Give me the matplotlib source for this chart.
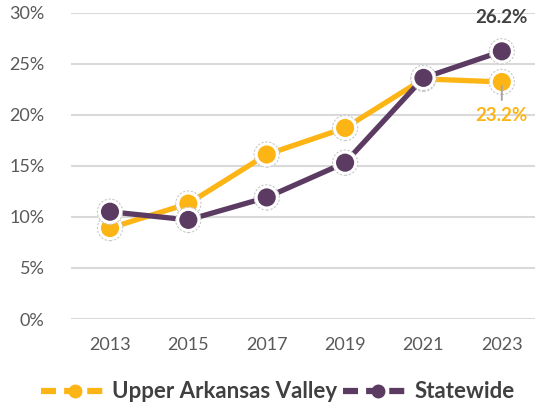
#!/usr/bin/env python3
"""Line chart: Upper Arkansas Valley vs Statewide, 2013-2023."""

import matplotlib
matplotlib.use('Agg')
import matplotlib.pyplot as plt
from matplotlib.lines import Line2D

years = ['2013', '2015', '2017', '2019', '2021', '2023']
valley = [8.9, 11.3, 16.1, 18.7, 23.5, 23.2]
statewide = [10.5, 9.7, 11.9, 15.3, 23.6, 26.2]
series_names = ['Upper Arkansas Valley', 'Statewide']
y_ticks = [0, 5, 10, 15, 20, 25, 30]

GOLD = '#FDB515'
PURPLE = '#5C3B62'
TEXT = '#595959'
DARK = '#404040'

plt.rcParams['font.family'] = ['Lato', 'DejaVu Sans']

fig = plt.figure(figsize=(5.35, 4.07), dpi=100)
ax = fig.add_axes([70.8 / 535, 1 - 319 / 407, (541 - 70.8) / 535, (319 - 12.5) / 407])

x = list(range(len(years)))


def draw_series(values, color, z):
    ax.plot(x, values, color=color, lw=3.8, solid_capstyle='butt', zorder=z)
    # soft halo around each marker
    ax.scatter(x, values, s=330, facecolors='white', edgecolors='#c8c8c8',
               linewidths=0.8, linestyles=(0, (2, 1.5)), zorder=z + 0.1)
    ax.scatter(x, values, s=170, color=color, edgecolors='none', zorder=z + 0.2)


draw_series(valley, GOLD, 3)
draw_series(statewide, PURPLE, 4)

ax.set_xlim(-0.5, len(years) - 0.5)
ax.set_ylim(0, 30)
ax.set_xticks(x)
ax.set_xticklabels(years)
ax.set_yticks(y_ticks)
ax.set_yticklabels([f'{t}%' for t in y_ticks])
ax.tick_params(axis='both', length=0, labelsize=13, colors=TEXT)
ax.tick_params(axis='y', pad=19)
ax.tick_params(axis='x', pad=13)
for s in ax.spines.values():
    s.set_visible(False)
ax.grid(axis='y', color='#d9d9d9', lw=1.5)
ax.set_axisbelow(True)

# end labels
ax.annotate(f'{statewide[-1]:.1f}%', (x[-1], statewide[-1]), xytext=(0, 24),
            textcoords='offset points', ha='center', va='center',
            fontsize=13.5, fontweight='bold', color=DARK, zorder=6)
ax.annotate(f'{valley[-1]:.1f}%', (x[-1], valley[-1]), xytext=(0, -24),
            textcoords='offset points', ha='center', va='center',
            fontsize=13.5, fontweight='bold', color=GOLD, zorder=6)
# leader line from the marker down to its label
ax.annotate('', (x[-1], valley[-1]), xytext=(0, -13), textcoords='offset points',
            arrowprops=dict(arrowstyle='-', color='#a6a6a6', lw=1.4,
                            shrinkA=0, shrinkB=3), zorder=7)

handles = [
    Line2D([], [], color=GOLD, lw=4.5, ls=(0, (2.4, 1.3)), marker='o',
           markersize=9, markevery=[1]),
    Line2D([], [], color=PURPLE, lw=4.5, ls=(0, (2.4, 1.3)), marker='o',
           markersize=9, markevery=[1]),
]
fig.legend(handles, series_names, loc='center', bbox_to_anchor=(0.519, 1 - 392 / 407),
           ncol=2, frameon=False, handlelength=3.1, handletextpad=0.1,
           columnspacing=0.3, prop=dict(size=16, weight='bold'), labelcolor=DARK)

fig.savefig('out.png', dpi=100)
